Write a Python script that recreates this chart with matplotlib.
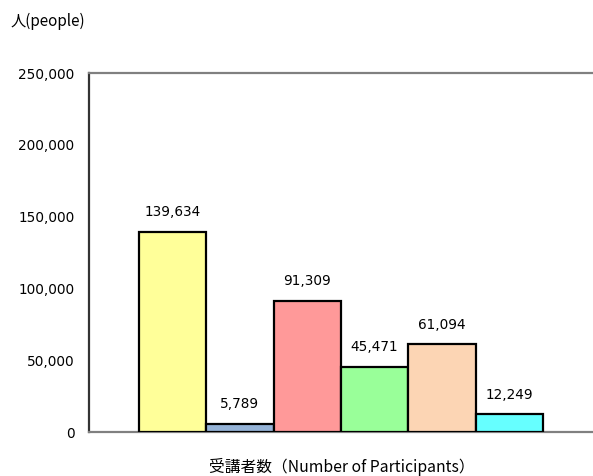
import numpy as np
import matplotlib.pyplot as plt

plt.rcParams['font.family'] = ['Noto Sans CJK JP', 'DejaVu Sans']

# 受講者数 per course category
values = [139634, 5789, 91309, 45471, 61094, 12249]
colors = ['#FFFF99', '#95B3D7', '#FF9999', '#99FF99', '#FCD5B4', '#66FFFF']
yticks = [0, 50000, 100000, 150000, 200000, 250000]

fig = plt.figure(figsize=(5.93, 4.76), dpi=100)
ax = fig.add_axes([0.150, 0.0924, 0.852, 0.7542])

x = np.arange(len(values))
bars = ax.bar(x, values, width=1.0, color=colors, edgecolor='black', linewidth=1.6, zorder=3)

for xi, v in zip(x, values):
    ax.annotate(f'{v:,}', (xi, v), xytext=(0, 9), textcoords='offset points',
                ha='center', va='bottom', fontsize=9.8, family='DejaVu Sans')

ax.set_ylim(0, 250000)
ax.set_xlim(-1.24, 6.26)
ax.set_yticks(yticks)
ax.set_yticklabels([f'{t:,}' for t in yticks], fontsize=9.8, family='DejaVu Sans')
ax.tick_params(axis='y', length=0, pad=10.5)
ax.set_xticks([])

ax.spines['right'].set_visible(False)
ax.spines['top'].set_color('#808080')
ax.spines['top'].set_linewidth(1.6)
ax.spines['bottom'].set_color('#808080')
ax.spines['bottom'].set_linewidth(1.6)
ax.spines['left'].set_color('#333333')
ax.spines['left'].set_linewidth(1.6)

ax.set_xlabel('受講者数（Number of Participants）', fontsize=11.3, labelpad=19)
fig.text(0.017, 0.956, '人(people)', fontsize=11, ha='left', va='center')

plt.savefig('out.png', dpi=100)
plt.close()
